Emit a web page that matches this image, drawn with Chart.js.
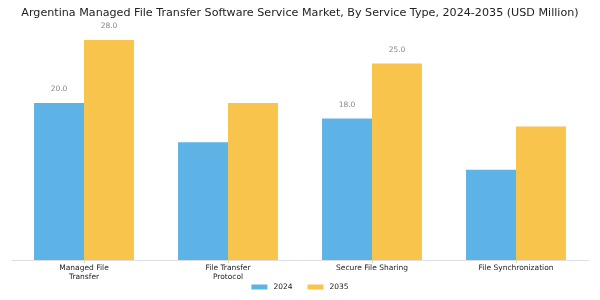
<!DOCTYPE html>
<html>
<head>
<meta charset="utf-8">
<script src="https://cdn.jsdelivr.net/npm/chart.js@4"></script>
<style>
  html, body { margin: 0; padding: 0; background: #fff; }
  #wrap { width: 600px; height: 300px; }
</style>
</head>
<body>
<div id="wrap"><canvas id="chart"></canvas></div>
<script>
// categorie (asse orizzontale)
const categories = [
  ['Managed File', 'Transfer'],
  ['File Transfer', 'Protocol'],
  'Secure File Sharing',
  'File Synchronization'
];

// valori per anno
const values2024 = [20.0, 15.0, 18.0, 11.5];
const values2035 = [28.0, 20.0, 25.0, 17.0];

// categorie con etichetta numerica sopra le barre
const labeledCategories = [0, 2];

const titleText = 'Argentina Managed File Transfer Software Service Market, By Service Type, 2024-2035 (USD Million)';

// etichette sopra le barre
const valueLabels = {
  id: 'valueLabels',
  afterDatasetsDraw(chart) {
    const ctx = chart.ctx;
    ctx.save();
    ctx.font = '7.5px "DejaVu Sans"';
    ctx.fillStyle = '#888';
    ctx.textAlign = 'center';
    ctx.textBaseline = 'bottom';
    chart.data.datasets.forEach((ds, i) => {
      const meta = chart.getDatasetMeta(i);
      labeledCategories.forEach(idx => {
        const bar = meta.data[idx];
        ctx.fillText(ds.data[idx].toFixed(1), bar.x, bar.y - 10);
      });
    });
    ctx.restore();
  }
};

// legenda compatta disegnata in basso al centro
const bottomLegend = {
  id: 'bottomLegend',
  afterDraw(chart) {
    const ctx = chart.ctx;
    const boxW = 16, boxH = 5, gapText = 6, gapItem = 15;
    const y = chart.height - 13;
    ctx.save();
    ctx.font = '7.5px "DejaVu Sans"';
    ctx.textBaseline = 'middle';
    ctx.textAlign = 'left';
    const items = chart.data.datasets.map(ds => ({
      text: ds.label, color: ds.backgroundColor, w: boxW + gapText + ctx.measureText(ds.label).width
    }));
    const total = items.reduce((s, it) => s + it.w, 0) + gapItem * (items.length - 1);
    let x = (chart.width - total) / 2;
    items.forEach(it => {
      ctx.fillStyle = it.color;
      ctx.fillRect(x, y - boxH / 2, boxW, boxH);
      ctx.fillStyle = '#222';
      ctx.fillText(it.text, x + boxW + gapText, y);
      x += it.w + gapItem;
    });
    ctx.restore();
  }
};

new Chart(document.getElementById('chart'), {
  type: 'bar',
  data: {
    labels: categories,
    datasets: [
      { label: '2024', data: values2024, backgroundColor: '#5DB3E6' },
      { label: '2035', data: values2035, backgroundColor: '#F9C44B' }
    ]
  },
  options: {
    responsive: true,
    maintainAspectRatio: false,
    animation: false,
    layout: { padding: { left: 12, right: 12, top: 0, bottom: 17 } },
    datasets: { bar: { categoryPercentage: 0.694, barPercentage: 1.0 } },
    plugins: {
      title: {
        display: true,
        text: titleText,
        color: '#222',
        font: { family: 'DejaVu Sans', size: 11.15, weight: 'normal' },
        padding: { top: 6.5, bottom: 8 }
      },
      legend: { display: false },
      tooltip: { enabled: false }
    },
    scales: {
      x: {
        grid: { display: true, drawOnChartArea: false, drawTicks: true, tickLength: 3, offset: false, color: '#ccc' },
        border: { display: true, color: '#ddd' },
        ticks: { color: '#222', font: { family: 'DejaVu Sans', size: 7.5 }, maxRotation: 0, autoSkip: false, padding: 1 }
      },
      y: {
        display: false,
        min: 0,
        max: 29.55
      }
    }
  },
  plugins: [valueLabels, bottomLegend]
});
</script>
</body>
</html>
